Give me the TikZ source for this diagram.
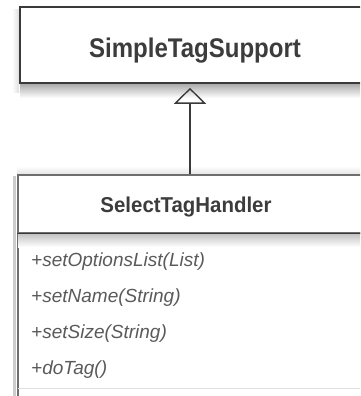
\documentclass[tikz,border=0pt]{standalone}
\usepackage{fontspec}
\setmainfont{Liberation Sans}
\usetikzlibrary{arrows.meta}
\definecolor{edge}{HTML}{3A3A3A}
\definecolor{lightedge}{HTML}{6E6E6E}
\definecolor{txt}{HTML}{3C3C3C}
\definecolor{mtxt}{HTML}{5A5A5A}
\begin{document}
\begin{tikzpicture}[x=1pt,y=-1pt,
  classbox/.style={draw=edge, line width=1.6pt, fill=white, inner sep=0pt},
  headbox/.style={draw=lightedge, line width=1.5pt, fill=white, inner sep=0pt},
  titletext/.style={anchor=base, text=txt, inner sep=0pt,
    font=\fontsize{27}{27}\selectfont\bfseries},
  headtext/.style={anchor=base, text=txt, inner sep=0pt,
    font=\fontsize{21.5}{21.5}\selectfont\bfseries},
  methodtext/.style={anchor=base west, text=mtxt, inner sep=0pt,
    font=\fontsize{19}{19}\selectfont\itshape},
  inherit/.style={draw=edge, line width=1.6pt,
    -{Triangle[open, width=32pt, length=16pt, line width=1.4pt]}}]
\useasboundingbox (0,0) rectangle (360,396);
\clip (0,0) rectangle (360,396);
\fill[white] (0,0) rectangle (360,396);
% shadows
\shade[left color=white, right color=gray!25] (12,10) rectangle (19,92);
\shade[top color=gray!65, bottom color=white] (20,84) rectangle (372,98);
\shade[top color=white, bottom color=gray!20] (17,166) rectangle (380,174);
\fill[gray!40] (13.2,176) rectangle (16,396);
% top class
\node[classbox, minimum width=350pt, minimum height=76pt] (sup) at (195,45) {};
\node[titletext] (suplabel) at (195,58) {\scalebox{0.89}[1]{SimpleTagSupport}};
% lower class
\node[headbox, anchor=north west, minimum width=380pt, minimum height=58pt] (handler) at (17,174) {};
\node[headbox, anchor=north west, minimum width=380pt, minimum height=200pt] (methods) at (17,232) {};
\shade[top color=gray!50, bottom color=white] (18,233) rectangle (380,247);
\draw[edge, line width=1.9pt] (handler.south west) -- (handler.south east);
\draw[gray!25, line width=0.8pt] (18,388) -- (380,388);
\node[headtext] (handlerlabel) at (186,212) {\scalebox{0.95}[1]{SelectTagHandler}};
\node[methodtext] (m1) at (31,266) {+setOptionsList(List)};
\node[methodtext] (m2) at (31,302) {+setName(String)};
\node[methodtext] (m3) at (31,338) {+setSize(String)};
\node[methodtext] (m4) at (31,374) {+doTag()};
% generalization
\coordinate (joint) at (190,174);
\draw[inherit, shorten >=4pt] (joint) -- (joint |- sup.south);
\end{tikzpicture}
\end{document}
